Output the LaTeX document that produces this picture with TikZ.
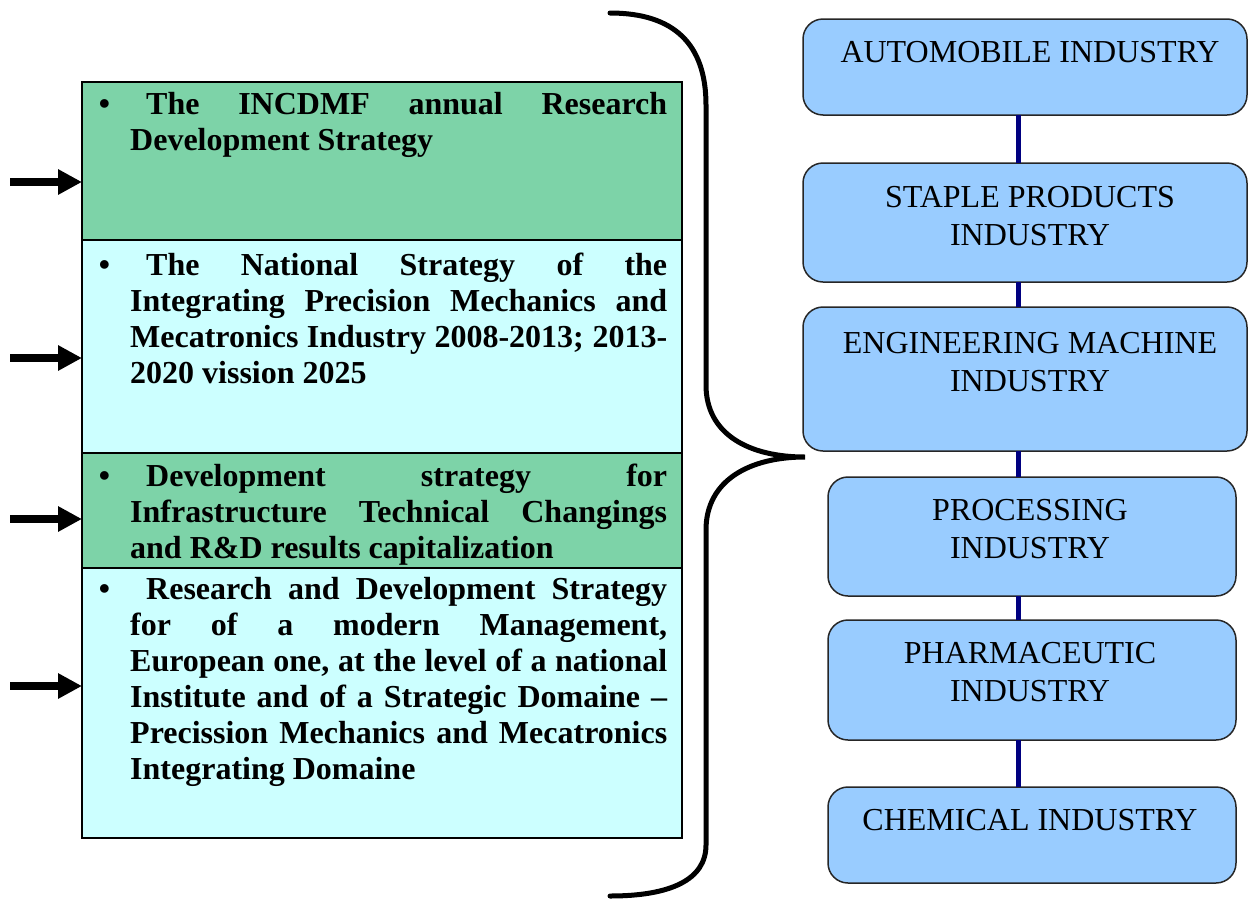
\documentclass[tikz,border=0pt]{standalone}
\usepackage{fontspec}
\setmainfont{Liberation Serif}
\usetikzlibrary{arrows.meta}
\definecolor{secgreen}{HTML}{7DD3A8}
\definecolor{seccyan}{HTML}{CCFFFF}
\definecolor{indblue}{HTML}{99CCFF}
\definecolor{linknavy}{HTML}{000080}
\newcommand{\mybullet}{\leavevmode\llap{\textbullet\hspace{20pt}}\hspace*{16pt}}
\begin{document}
\begin{tikzpicture}[x=1pt,y=-1pt,
  sec/.style={draw=black, line width=2.5pt, inner sep=0pt, outer sep=0pt, anchor=north west},
  lt/.style={inner sep=0pt, anchor=base west, font=\fontsize{32}{36}\selectfont\bfseries},
  rt/.style={inner sep=0pt, anchor=base, font=\fontsize{32}{38}\selectfont},
  ibox/.style={draw=black!85, line width=1.5pt, fill=indblue, rounded corners=20pt, inner sep=0pt, outer sep=0pt},
  link/.style={draw=linknavy, line width=5pt},
  arr/.style={line width=8pt, -{Triangle[length=24pt,width=24pt]}},
  brace/.style={line width=5pt, line cap=round}
]
\useasboundingbox (0,0) rectangle (1249,900);

% left sections
\node[sec, fill=secgreen, minimum width=600pt, minimum height=158pt] (s1) at (82,82) {};
\node[sec, fill=seccyan,  minimum width=600pt, minimum height=213pt] (s2) at (82,240) {};
\node[sec, fill=secgreen, minimum width=600pt, minimum height=115pt] (s3) at (82,453) {};
\node[sec, fill=seccyan,  minimum width=600pt, minimum height=270pt] (s4) at (82,568) {};

\node[lt] (x1) at (130,114) {\parbox[t]{537pt}{\hyphenpenalty=10000\exhyphenpenalty=10000
\mybullet The INCDMF annual Research\linebreak Development Strategy}};
\node[lt] (x2) at (130,275) {\parbox[t]{537pt}{\hyphenpenalty=10000\exhyphenpenalty=10000
\mybullet The National Strategy of the\linebreak Integrating Precision Mechanics and\linebreak Mecatronics Industry 2008-2013; 2013-\linebreak 2020 vission 2025}};
\node[lt] (x3) at (130,486) {\parbox[t]{537pt}{\hyphenpenalty=10000\exhyphenpenalty=10000
\mybullet Development strategy for\linebreak Infrastructure Technical Changings\linebreak and R\&D results capitalization}};
\node[lt] (x4) at (130,599) {\parbox[t]{537pt}{\hyphenpenalty=10000\exhyphenpenalty=10000
\mybullet Research and Development Strategy\linebreak for of a modern Management,\linebreak European one, at the level of a national\linebreak Institute and of a Strategic Domaine --\linebreak Precission Mechanics and Mecatronics\linebreak Integrating Domaine}};

% arrows
\coordinate (a1) at (10,182);
\coordinate (a2) at (10,358);
\coordinate (a3) at (10,519);
\coordinate (a4) at (10,686);
\draw[arr] (a1) -- (a1 -| s1.west);
\draw[arr] (a2) -- (a2 -| s2.west);
\draw[arr] (a3) -- (a3 -| s3.west);
\draw[arr] (a4) -- (a4 -| s4.west);

% brace
\draw[brace] (610,13) .. controls (675,13) and (706,45) .. (706,105)
  -- (706,385) .. controls (706,435) and (750,457) .. (805,457)
  .. controls (750,457) and (706,480) .. (706,530)
  -- (706,845) .. controls (706,880) and (670,896) .. (610,896);

% industry boxes
\coordinate (cx) at (1018,0);
\node[ibox, minimum width=444pt, minimum height=96pt]  (b1) at (1025,67) {};
\node[ibox, minimum width=444pt, minimum height=119pt] (b2) at (1025,222.5) {};
\node[ibox, minimum width=444pt, minimum height=144pt] (b3) at (1025,379) {};
\node[ibox, minimum width=408pt, minimum height=119pt] (b4) at (1032,536.5) {};
\node[ibox, minimum width=408pt, minimum height=120pt] (b5) at (1032,680) {};
\node[ibox, minimum width=408pt, minimum height=96pt]  (b6) at (1032,835) {};
\draw[link] (b1.south -| cx) -- (b2.north -| cx);
\draw[link] (b2.south -| cx) -- (b3.north -| cx);
\draw[link] (b3.south -| cx) -- (b4.north -| cx);
\draw[link] (b4.south -| cx) -- (b5.north -| cx);
\draw[link] (b5.south -| cx) -- (b6.north -| cx);

\node[rt] (t1) at (1030,62)  {\parbox[t]{440pt}{\centering AUTOMOBILE INDUSTRY}};
\node[rt] (t2) at (1030,207) {\parbox[t]{440pt}{\centering STAPLE PRODUCTS\\INDUSTRY}};
\node[rt] (t3) at (1030,353) {\parbox[t]{440pt}{\centering ENGINEERING MACHINE\\INDUSTRY}};
\node[rt] (t4) at (1030,520) {\parbox[t]{400pt}{\centering PROCESSING\\INDUSTRY}};
\node[rt] (t5) at (1030,663) {\parbox[t]{400pt}{\centering PHARMACEUTIC\\INDUSTRY}};
\node[rt] (t6) at (1030,830) {\parbox[t]{400pt}{\centering CHEMICAL INDUSTRY}};
\end{tikzpicture}
\end{document}
